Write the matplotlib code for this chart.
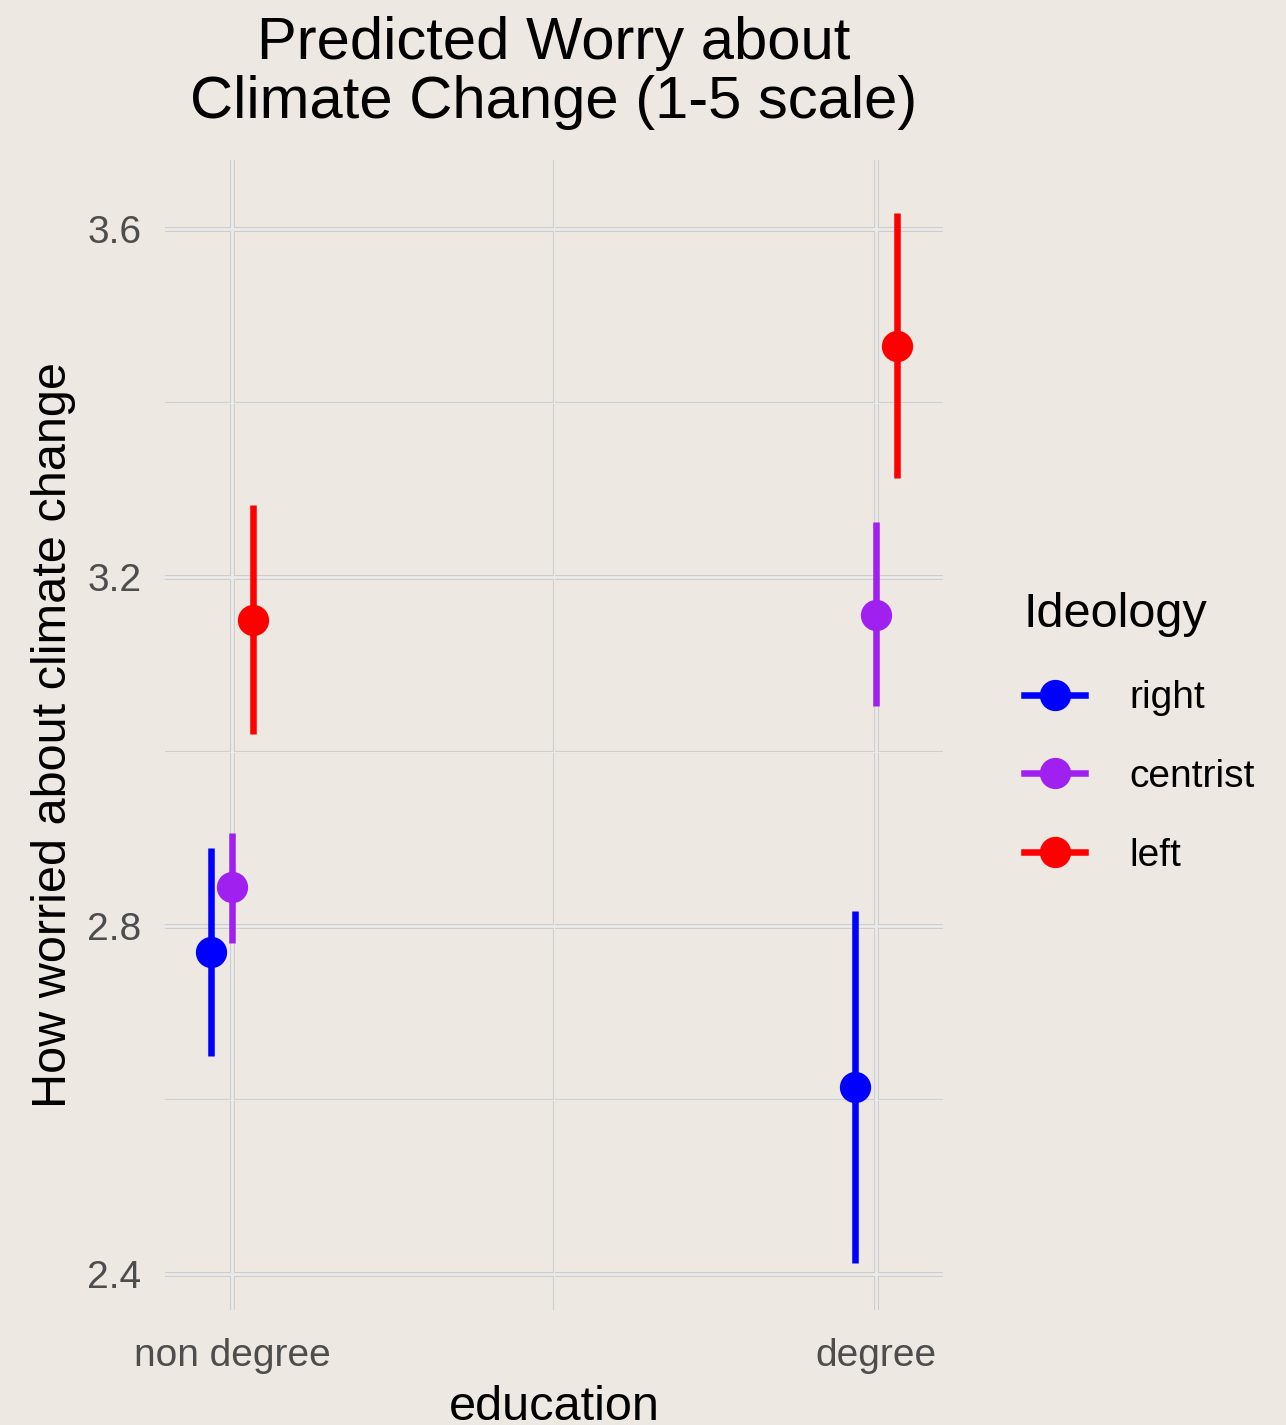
import matplotlib
matplotlib.use("Agg")
import matplotlib.pyplot as plt
from matplotlib.lines import Line2D

# datos
education = ["non degree", "degree"]
ideology = ["right", "centrist", "left"]
colors = ["#0000FF", "#A020F0", "#FF0000"]

pred = {
    "right":    [2.770, 2.615],
    "centrist": [2.844, 3.157],
    "left":     [3.151, 3.466],
}
lower = {
    "right":    [2.651, 2.413],
    "centrist": [2.780, 3.052],
    "left":     [3.020, 3.314],
}
upper = {
    "right":    [2.889, 2.817],
    "centrist": [2.907, 3.263],
    "left":     [3.283, 3.618],
}

bg = "#EDE8E2"
plt.rcParams["font.family"] = ["Liberation Sans", "DejaVu Sans"]

fig = plt.figure(figsize=(12.86, 14.25), dpi=100, facecolor=bg)
ax = fig.add_axes([165 / 1286, 1 - 1310 / 1425, (943 - 165) / 1286, (1310 - 160) / 1425])
ax.set_facecolor(bg)
for s in ax.spines.values():
    s.set_visible(False)

ax.set_xlim(-0.104, 1.104)
ax.set_ylim(2.359, 3.679)

# grid (mayor y menor)
for y in [2.4, 2.8, 3.2, 3.6]:
    ax.axhline(y, color="#CDCDCD", lw=3.6, zorder=0)
    ax.axhline(y, color="#EBEBEB", lw=2.0, zorder=0.1)
for y in [2.6, 3.0, 3.4]:
    ax.axhline(y, color="#CFCFCF", lw=1.6, zorder=0)
    ax.axhline(y, color="#EBEBEB", lw=0.7, zorder=0.1)
for x in [0, 1]:
    ax.axvline(x, color="#CDCDCD", lw=3.6, zorder=0)
    ax.axvline(x, color="#EBEBEB", lw=2.0, zorder=0.1)
ax.axvline(0.5, color="#CFCFCF", lw=1.6, zorder=0)
ax.axvline(0.5, color="#EBEBEB", lw=0.7, zorder=0.1)

offsets = [-0.033, 0.0, 0.033]
handles = []
for name, c, off in zip(ideology, colors, offsets):
    xs = [i + off for i in range(len(education))]
    ax.vlines(xs, lower[name], upper[name], color=c, lw=4.7, zorder=2)
    ax.plot(xs, pred[name], "o", color=c, ms=21.5, mec=c, zorder=3, ls="none")
    handles.append(Line2D([], [], color=c, lw=4.7, marker="o", ms=21.5, label=name))

ax.set_xticks([0, 1])
ax.set_xticklabels(education)
ax.set_yticks([2.4, 2.8, 3.2, 3.6])
ax.set_yticklabels(["2.4", "2.8", "3.2", "3.6"])
ax.tick_params(axis="both", length=0, labelsize=28, labelcolor="#4D4D4D")
ax.tick_params(axis="x", pad=20)
ax.tick_params(axis="y", pad=17)

ax.set_xlabel("education", fontsize=35, labelpad=8)
ax.set_ylabel("How worried about climate change", fontsize=35, labelpad=8)
ax.set_title("Predicted Worry about\nClimate Change (1-5 scale)", fontsize=43,
             linespacing=1.1, pad=30)

leg = fig.legend(handles=handles, title="Ideology", loc="center left",
                 bbox_to_anchor=(1024 / 1286, 1 - 733 / 1425), frameon=False,
                 fontsize=28, title_fontsize=35, alignment="left", borderpad=0,
                 borderaxespad=0, handlelength=1.57, handletextpad=1.15,
                 labelspacing=1.1)

plt.savefig("out.png", dpi=100, facecolor=bg)
